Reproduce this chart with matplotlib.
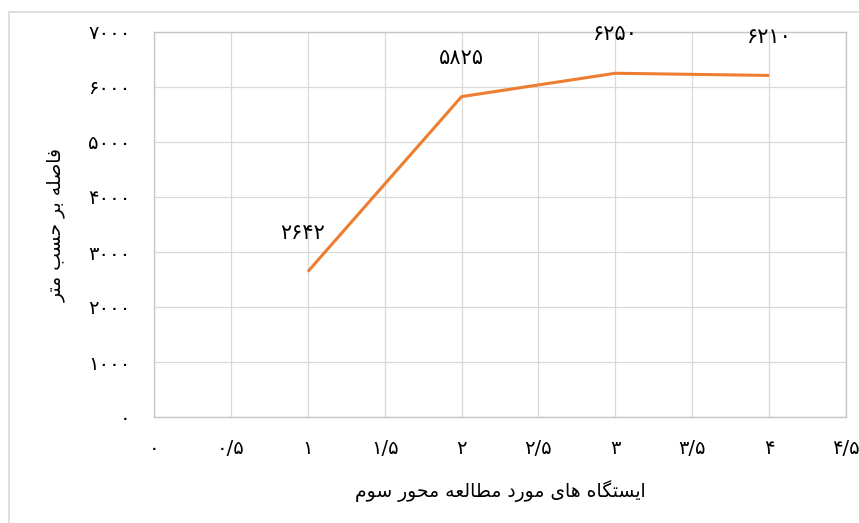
import matplotlib
matplotlib.use("Agg")
import matplotlib.pyplot as plt
import matplotlib.patches as patches
from matplotlib.ticker import MultipleLocator, FuncFormatter

stations = [1, 2, 3, 4]
distance = [2642, 5825, 6250, 6210]

x_label = "ایستگاه های مورد مطالعه محور سوم"
y_label = "فاصله بر حسب متر"

# presentation forms: isolated, final, initial, medial (None = does not join forward)
FORMS = {
    "ا": ("\uFE8D", "\uFE8E", None, None),
    "ب": ("\uFE8F", "\uFE90", "\uFE91", "\uFE92"),
    "ت": ("\uFE95", "\uFE96", "\uFE97", "\uFE98"),
    "ح": ("\uFEA1", "\uFEA2", "\uFEA3", "\uFEA4"),
    "د": ("\uFEA9", "\uFEAA", None, None),
    "ر": ("\uFEAD", "\uFEAE", None, None),
    "س": ("\uFEB1", "\uFEB2", "\uFEB3", "\uFEB4"),
    "ص": ("\uFEB9", "\uFEBA", "\uFEBB", "\uFEBC"),
    "ط": ("\uFEC1", "\uFEC2", "\uFEC3", "\uFEC4"),
    "ع": ("\uFEC9", "\uFECA", "\uFECB", "\uFECC"),
    "ف": ("\uFED1", "\uFED2", "\uFED3", "\uFED4"),
    "ل": ("\uFEDD", "\uFEDE", "\uFEDF", "\uFEE0"),
    "م": ("\uFEE1", "\uFEE2", "\uFEE3", "\uFEE4"),
    "ه": ("\uFEE9", "\uFEEA", "\uFEEB", "\uFEEC"),
    "و": ("\uFEED", "\uFEEE", None, None),
    "ی": ("\uFBFC", "\uFBFD", "\uFBFE", "\uFBFF"),
    "گ": ("\uFB92", "\uFB93", "\uFB94", "\uFB95"),
}


def shape(text):
    out = []
    for i, ch in enumerate(text):
        if ch not in FORMS:
            out.append(ch)
            continue
        prev = text[i - 1] if i > 0 else ""
        nxt = text[i + 1] if i + 1 < len(text) else ""
        join_prev = prev in FORMS and FORMS[prev][2] is not None
        join_next = FORMS[ch][2] is not None and nxt in FORMS
        iso, fin, ini, med = FORMS[ch]
        if join_prev and join_next:
            out.append(med)
        elif join_prev:
            out.append(fin)
        elif join_next:
            out.append(ini)
        else:
            out.append(iso)
    return "".join(out)[::-1]


def fa_num(v):
    s = ("%g" % v).replace(".", "/")
    return s.translate(str.maketrans("0123456789", "۰۱۲۳۴۵۶۷۸۹"))


plt.rcParams["font.family"] = ["DejaVu Sans"]

fig = plt.figure(figsize=(8.59, 5.23), dpi=100)
ax = fig.add_axes([154 / 859, 106 / 523, 692 / 859, 385 / 523])

ax.plot(stations, distance, color="#ED7D31", lw=2.2, solid_capstyle="butt", zorder=3)

for xv, yv in zip(stations, distance):
    ax.annotate(fa_num(yv), (xv, yv), xytext=(-4 if xv == 1 else 0, 28),
                textcoords="offset points", ha="center", va="center",
                fontsize=15, color="black", annotation_clip=False)

ax.set_xlim(0, 4.5)
ax.set_ylim(0, 7000)
ax.xaxis.set_major_locator(MultipleLocator(0.5))
ax.yaxis.set_major_locator(MultipleLocator(1000))
ax.xaxis.set_major_formatter(FuncFormatter(lambda v, p: fa_num(round(v, 1))))
ax.yaxis.set_major_formatter(FuncFormatter(lambda v, p: fa_num(int(round(v)))))

ax.grid(True, color="#d9d9d9", lw=0.9)
ax.set_axisbelow(True)
for sp in ax.spines.values():
    sp.set_color("#c6c6c6")
    sp.set_linewidth(1.0)
ax.tick_params(length=0, labelsize=14, colors="black")
ax.tick_params(axis="x", pad=16)
ax.tick_params(axis="y", pad=17)

ax.set_xlabel(shape(x_label), fontsize=13.5, labelpad=16)
ax.set_ylabel(shape(y_label), fontsize=13.5, labelpad=16)

# outer chart border
fig.patches.append(patches.Rectangle((9 / 859, -0.5), 2, 0.5 + 511 / 523,
                                     transform=fig.transFigure, fill=False,
                                     edgecolor="#d9d9d9", lw=1.2))

fig.savefig("out.png", dpi=100)
